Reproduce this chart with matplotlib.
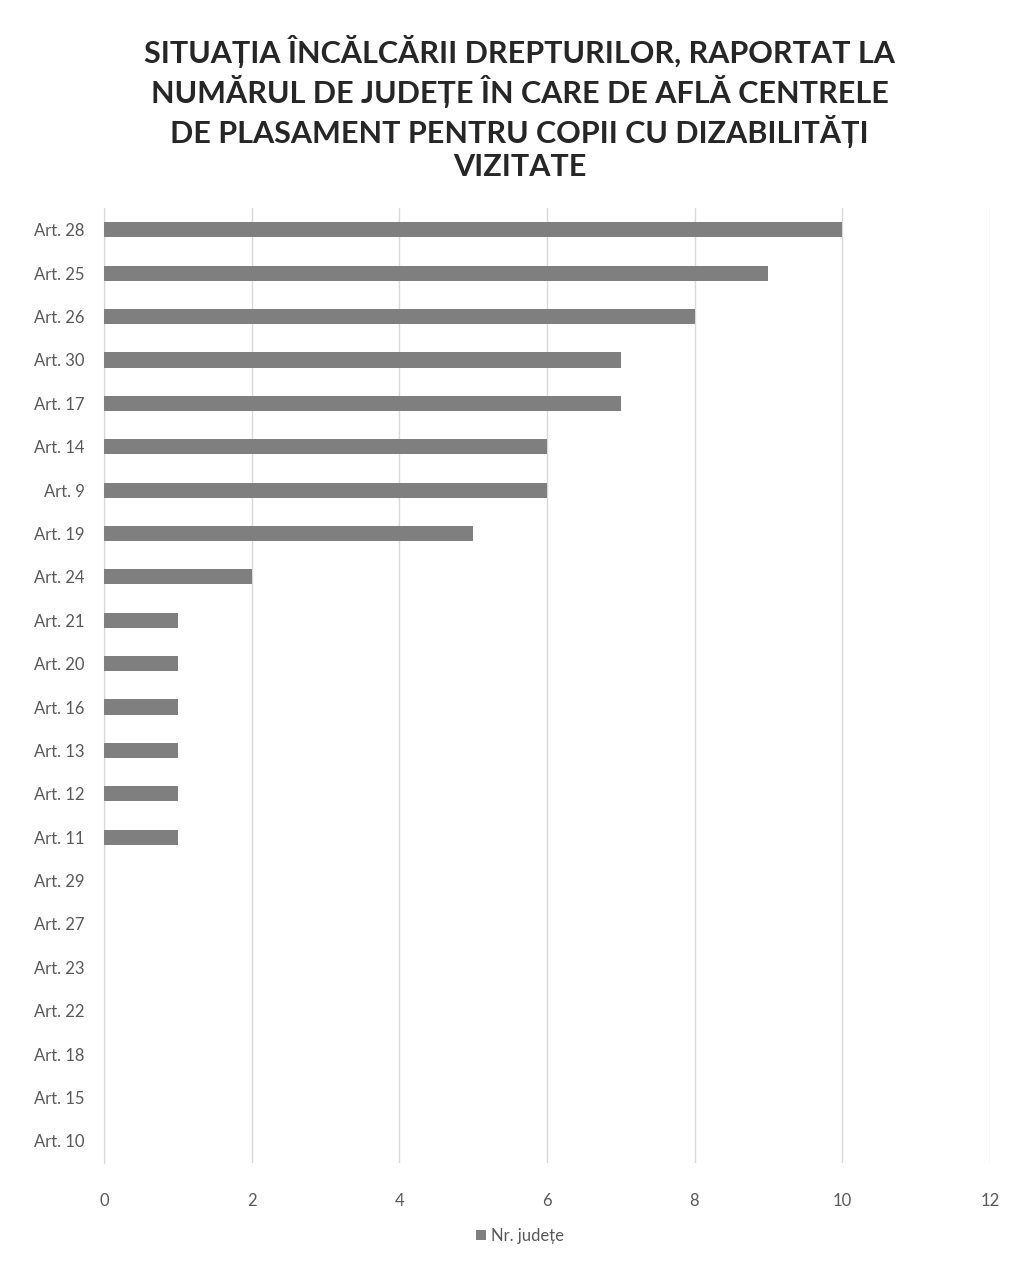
import matplotlib.pyplot as plt

# categories listed top to bottom, as in the chart
articles = ['Art. 28', 'Art. 25', 'Art. 26', 'Art. 30', 'Art. 17', 'Art. 14', 'Art. 9',
            'Art. 19', 'Art. 24', 'Art. 21', 'Art. 20', 'Art. 16', 'Art. 13', 'Art. 12',
            'Art. 11', 'Art. 29', 'Art. 27', 'Art. 23', 'Art. 22', 'Art. 18', 'Art. 15',
            'Art. 10']
nr_judete = [10, 9, 8, 7, 7, 6, 6, 5, 2, 1, 1, 1, 1, 1, 1, 0, 0, 0, 0, 0, 0, 0]
x_ticks = [0, 2, 4, 6, 8, 10, 12]

title = ('SITUAȚIA ÎNCĂLCĂRII DREPTURILOR, RAPORTAT LA\n'
         'NUMĂRUL DE JUDEȚE ÎN CARE DE AFLĂ CENTRELE\n'
         'DE PLASAMENT PENTRU COPII CU DIZABILITĂȚI\n'
         'VIZITATE')

plt.rcParams['font.family'] = ['Lato', 'DejaVu Sans']

fig = plt.figure(figsize=(10.09, 12.61), dpi=100)
ax = fig.add_axes([0.103, 0.078, 0.878, 0.757])

pos = list(range(len(articles)))[::-1]
ax.barh(pos, nr_judete, height=0.35, color='#7f7f7f', label='Nr. județe', zorder=3)

ax.set_yticks(pos)
ax.set_yticklabels(articles, fontsize=12, color='#595959')
ax.set_ylim(-0.5, len(articles) - 0.5)
ax.set_xlim(0, 12)
ax.set_xticks(x_ticks)
ax.set_xticklabels([str(t) for t in x_ticks], fontsize=12, color='#595959')
ax.tick_params(axis='both', length=0)
ax.tick_params(axis='x', pad=22)
ax.tick_params(axis='y', pad=14)

ax.grid(axis='x', color='#d9d9d9', linewidth=1, zorder=0)
for side in ['top', 'right', 'bottom']:
    ax.spines[side].set_visible(False)
ax.spines['left'].set_color('#d9d9d9')

fig.text(0.515, 0.972, title, ha='center', va='top', fontsize=22, fontweight='bold',
         color='#262626', linespacing=1.24)

fig.legend(loc='center', bbox_to_anchor=(0.515, 0.02), frameon=False, fontsize=12,
           labelcolor='#595959', handlelength=0.6, handleheight=0.6, handletextpad=0.3)

fig.savefig('out.png', dpi=100)
